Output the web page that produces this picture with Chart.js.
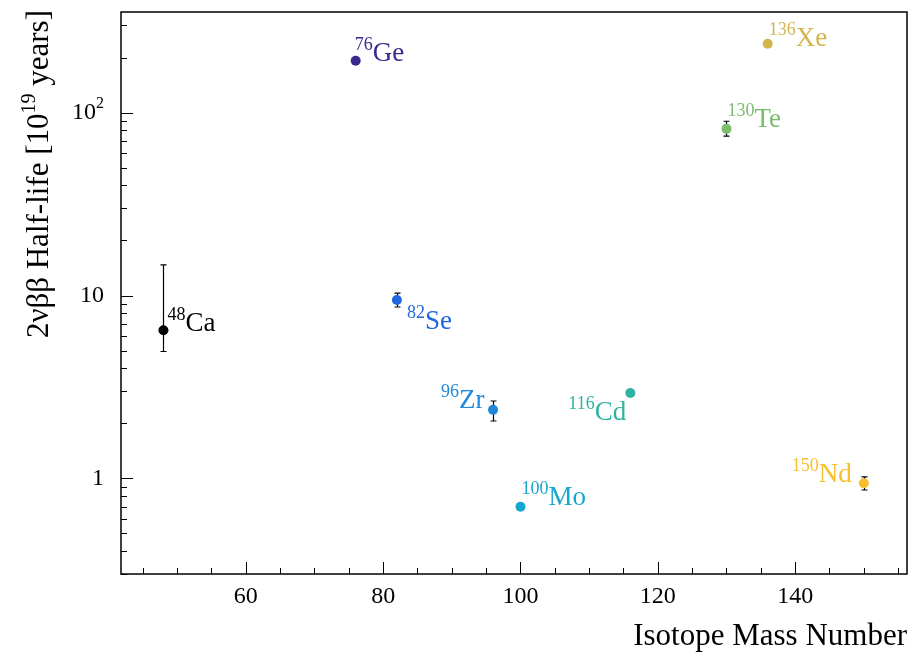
<!DOCTYPE html>
<html>
<head>
<meta charset="utf-8">
<script src="https://cdn.jsdelivr.net/npm/chart.js@4.4.1/dist/chart.umd.min.js"></script>
<style>
  body { margin: 0; background: #fff; }
</style>
</head>
<body>
<canvas id="chart" width="912" height="656"></canvas>
<script>
// measured 2vbb half-lives, in units of 1e19 years
const isotopes    = ["Ca", "Ge", "Se", "Zr", "Mo", "Cd", "Te", "Xe", "Nd"];
const massNumbers = [48, 76, 82, 96, 100, 116, 130, 136, 150];
const halfLives   = [6.45, 192, 9.45, 2.37, 0.70, 2.93, 81.5, 238, 0.94];
const errUp       = [8.25, 0, 0.85, 0.28, 0, 0, 8.2, 0, 0.08];
const errDown     = [1.51, 0, 0.8, 0.31, 0, 0, 7.2, 0, 0.076];
const xTicks = [60, 80, 100, 120, 140];
const yTicks = [1, 10, 100];

const colors = ["#000000", "#382a8c", "#1d68df", "#2087da", "#16a8cb",
                "#2db4a0", "#7cbd6c", "#d3b54e", "#f8bf2a"];
// label placement around each marker: [dx, dy] in px
const labelOffsets = [[4, 1], [-1, 0], [10, 29], [-52, -2], [1, -2],
                      [-62, 27], [1, -2], [1, 2], [-72, -1]];

const SERIF = '"Liberation Serif", "DejaVu Serif", serif';

function supText(ctx, x, y, base, sup, size, supSize, rise) {
  // draws base text followed by a superscript, returns the end x
  ctx.font = size + "px " + SERIF;
  ctx.fillText(base, x, y);
  x += ctx.measureText(base).width;
  ctx.font = supSize + "px " + SERIF;
  ctx.fillText(sup, x, y - rise);
  return x + ctx.measureText(sup).width;
}

const errorBars = {
  id: "errorBars",
  beforeDatasetsDraw(chart) {
    const ctx = chart.ctx, xs = chart.scales.x, ys = chart.scales.y;
    ctx.save();
    ctx.strokeStyle = "#000";
    ctx.lineWidth = 1.2;
    massNumbers.forEach((m, i) => {
      if (!errUp[i] && !errDown[i]) return;
      const x = Math.round(xs.getPixelForValue(m)) + 0.5;
      const top = ys.getPixelForValue(halfLives[i] + errUp[i]);
      const bot = ys.getPixelForValue(halfLives[i] - errDown[i]);
      ctx.beginPath();
      ctx.moveTo(x, top); ctx.lineTo(x, bot);
      ctx.moveTo(x - 3, top); ctx.lineTo(x + 3, top);
      ctx.moveTo(x - 3, bot); ctx.lineTo(x + 3, bot);
      ctx.stroke();
    });
    ctx.restore();
  }
};

const frame = {
  id: "frame",
  afterDraw(chart) {
    const ctx = chart.ctx, a = chart.chartArea;
    const xs = chart.scales.x, ys = chart.scales.y;
    ctx.save();

    // isotope labels: mass number as superscript, then the element
    ctx.textBaseline = "alphabetic";
    ctx.textAlign = "left";
    isotopes.forEach((name, i) => {
      const px = xs.getPixelForValue(massNumbers[i]);
      const py = ys.getPixelForValue(halfLives[i]);
      ctx.fillStyle = colors[i];
      ctx.font = "18px " + SERIF;
      const sup = String(massNumbers[i]);
      const x0 = px + labelOffsets[i][0], y0 = py + labelOffsets[i][1];
      ctx.fillText(sup, x0, y0 - 11);
      const w = ctx.measureText(sup).width;
      ctx.font = "27px " + SERIF;
      ctx.fillText(name, x0 + w, y0);
    });

    // box
    ctx.strokeStyle = "#000";
    ctx.lineWidth = 1.5;
    ctx.strokeRect(a.left, a.top, a.right - a.left, a.bottom - a.top);

    // x ticks, inward
    ctx.lineWidth = 1;
    ctx.beginPath();
    for (let v = 45; v <= xs.max; v += 5) {
      const x = Math.round(xs.getPixelForValue(v)) + 0.5;
      const len = v % 20 === 0 ? 12 : 6;
      ctx.moveTo(x, a.bottom); ctx.lineTo(x, a.bottom - len);
    }
    // y ticks, inward
    for (let k = -1; k <= 2; k++) {
      for (let m = 1; m <= 9; m++) {
        const v = m * Math.pow(10, k);
        if (v < ys.min || v > ys.max) continue;
        const y = Math.round(ys.getPixelForValue(v)) + 0.5;
        ctx.moveTo(a.left, y); ctx.lineTo(a.left + (m === 1 ? 12 : 6), y);
      }
    }
    ctx.stroke();

    // tick labels
    ctx.fillStyle = "#000";
    ctx.font = "24px " + SERIF;
    ctx.textAlign = "center";
    xTicks.forEach(v => ctx.fillText(String(v), xs.getPixelForValue(v), 603));
    ctx.textAlign = "left";
    ctx.textBaseline = "middle";
    yTicks.forEach(v => {
      const y = ys.getPixelForValue(v);
      const exp = Math.round(Math.log10(v));
      if (exp < 2) {
        ctx.font = "24px " + SERIF;
        ctx.textAlign = "right";
        ctx.fillText(String(v), 104, y);
        ctx.textAlign = "left";
      } else {
        ctx.font = "24px " + SERIF;
        const w1 = ctx.measureText("10").width;
        ctx.font = "16px " + SERIF;
        const w2 = ctx.measureText(String(exp)).width;
        supText(ctx, 104 - w1 - w2, y, "10", String(exp), 24, 16, 9);
      }
    });

    // axis titles
    ctx.textBaseline = "alphabetic";
    ctx.font = "31px " + SERIF;
    ctx.textAlign = "right";
    ctx.fillText("Isotope Mass Number", 907, 645);

    ctx.translate(48, 10);
    ctx.rotate(-Math.PI / 2);
    ctx.textAlign = "left";
    const parts = ["2νββ Half-life [10", "19", " years]"];
    ctx.font = "31px " + SERIF;
    const wa = ctx.measureText(parts[0]).width, wc = ctx.measureText(parts[2]).width;
    ctx.font = "20px " + SERIF;
    const wb = ctx.measureText(parts[1]).width;
    let x = -(wa + wb + wc);
    x = supText(ctx, x, 0, parts[0], parts[1], 31, 20, 13);
    ctx.font = "31px " + SERIF;
    ctx.fillText(parts[2], x, 0);

    ctx.restore();
  }
};

new Chart(document.getElementById("chart"), {
  type: "scatter",
  data: {
    datasets: [{
      data: massNumbers.map((m, i) => ({ x: m, y: halfLives[i] })),
      pointBackgroundColor: colors,
      pointBorderWidth: 0,
      pointRadius: 5,
      showLine: false
    }]
  },
  options: {
    responsive: false,
    animation: false,
    layout: { padding: { top: 12, right: 4, left: 0, bottom: 0 } },
    plugins: { legend: { display: false }, tooltip: { enabled: false } },
    scales: {
      x: {
        type: "linear",
        min: 41.82,
        max: 156.29,
        ticks: { display: false },
        grid: { display: false, drawTicks: false },
        border: { display: false },
        afterFit(s) { s.height = 82; }
      },
      y: {
        type: "logarithmic",
        min: 0.3074,
        max: 355,
        ticks: { display: false },
        grid: { display: false, drawTicks: false },
        border: { display: false },
        afterFit(s) { s.width = 121; }
      }
    }
  },
  plugins: [errorBars, frame]
});
</script>
</body>
</html>
